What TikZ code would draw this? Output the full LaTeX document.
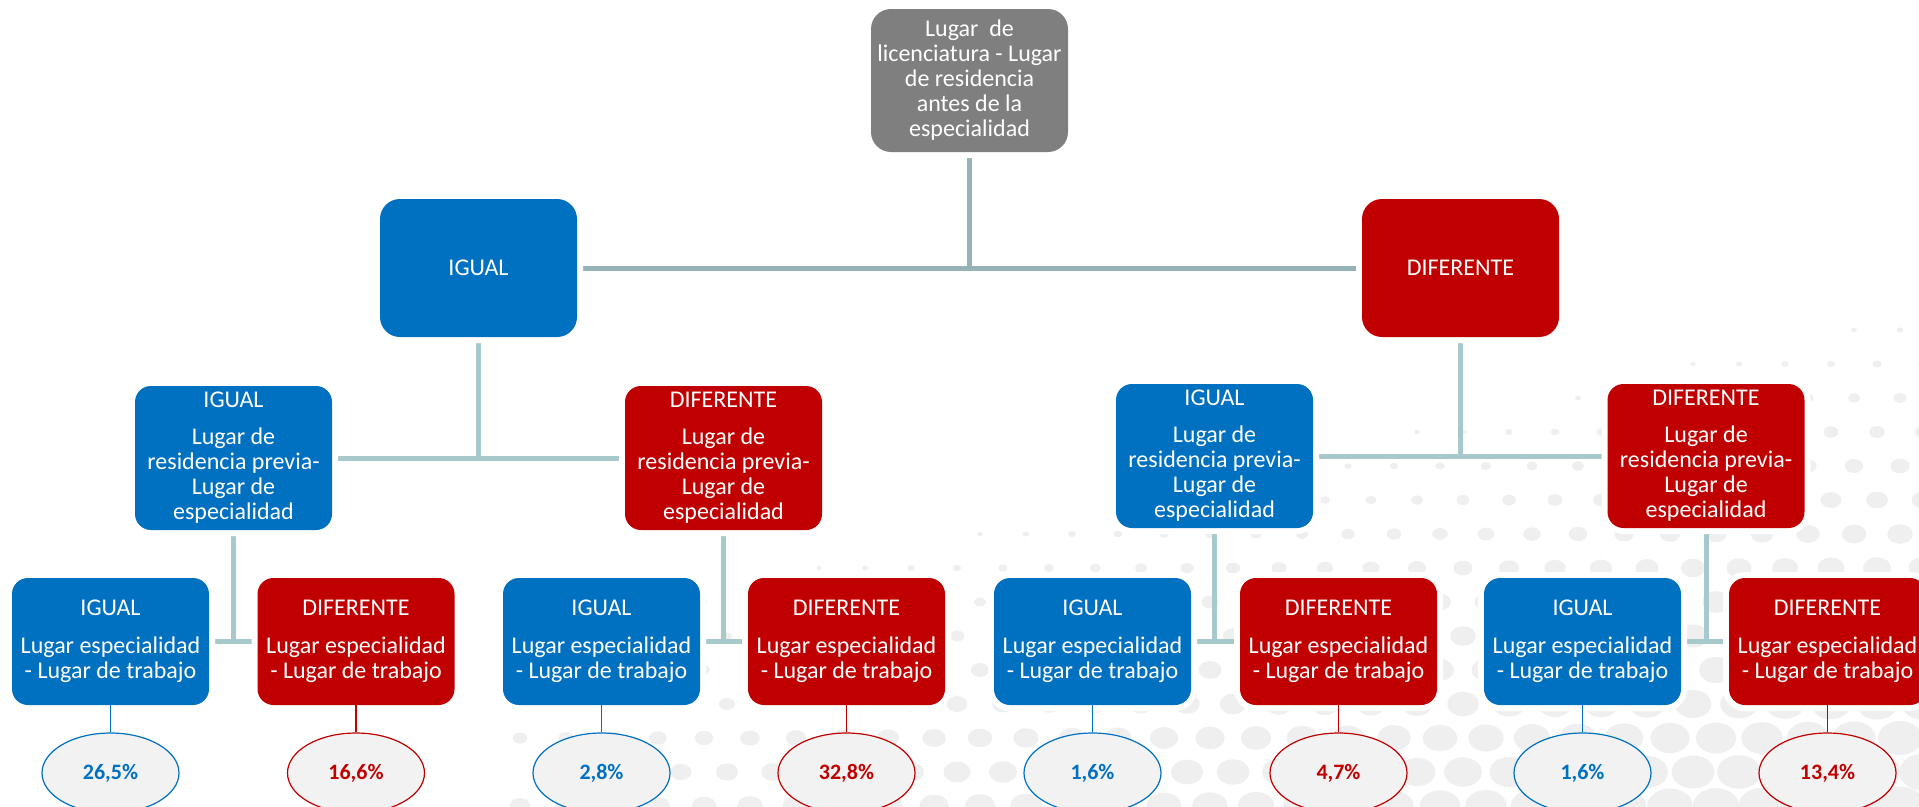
\documentclass[tikz,border=0pt]{standalone}
\usepackage{fontspec}
\setmainfont{Carlito}
\usetikzlibrary{shapes.geometric}
\definecolor{cblue}{HTML}{0070C0}
\definecolor{cred}{HTML}{C00000}
\definecolor{cgray}{HTML}{7F7F7F}
\definecolor{conncol}{HTML}{A7C9CC}
\definecolor{conntop}{HTML}{95B3B6}
\definecolor{dotc}{HTML}{EFEFEF}
\definecolor{ellfill}{HTML}{F2F2F2}
\pgfdeclarelayer{dots}
\pgfdeclarelayer{bg}
\pgfsetlayers{dots,bg,main}
\tikzset{
 box/.style={rectangle, rounded corners=16pt, text=white, align=center, inner sep=0pt,
   font=\fontsize{24}{25}\selectfont, preaction={draw=white, line width=12pt}},
 bigbox/.style={box, minimum width=197pt, minimum height=138pt, rounded corners=20pt},
 midbox/.style={box, minimum width=197pt, minimum height=144pt},
 lowbox/.style={box, minimum width=197pt, minimum height=127pt},
 ig/.style={fill=cblue}, df/.style={fill=cred},
 pct/.style={ellipse, draw, fill=ellfill, line width=1.2pt, minimum width=137pt,
   minimum height=80pt, inner sep=0pt, font=\fontsize{22}{24}\selectfont\bfseries},
 connline/.style={draw=conncol, line width=5pt},
 leaf/.style={line width=1.5pt},
}
\begin{document}
\begin{tikzpicture}[x=1pt,y=-1pt]
\clip (0,0) rectangle (1919,806);
\begin{pgfonlayer}{dots}
\fill[white] (0,0) rectangle (1919,806);
\foreach \i in {0,...,31}{\foreach \j in {0,...,14}{
 \pgfmathsetmacro\xx{520+\i*46+mod(\j,2)*23}
 \pgfmathsetmacro\yy{330+\j*34}
 \pgfmathsetmacro\rr{21*((\xx-520)/1400*0.55+(\yy-330)/476*0.8-0.42)}
 \ifdim\rr pt>2pt \fill[dotc] (\xx,\yy) ellipse ({1.3*\rr} and {\rr});\fi
}}
\end{pgfonlayer}
% nodes
\node[bigbox, fill=cgray, minimum height=143pt] (top) at (969.5,80.5)
  {Lugar\ \ de\\licenciatura - Lugar\\de residencia\\antes de la\\especialidad};
\node[bigbox, ig] (l1i) at (478.5,268) {IGUAL};
\node[bigbox, df] (l1d) at (1460.5,268) {DIFERENTE};
\node[midbox, ig] (l2a) at (233.5,458) {IGUAL\\[12pt]Lugar de\\residencia previa-\\Lugar de\\especialidad};
\node[midbox, df] (l2b) at (723.5,458) {DIFERENTE\\[12pt]Lugar de\\residencia previa-\\Lugar de\\especialidad};
\node[midbox, ig] (l2c) at (1214.5,456) {IGUAL\\[12pt]Lugar de\\residencia previa-\\Lugar de\\especialidad};
\node[midbox, df] (l2d) at (1706,456) {DIFERENTE\\[12pt]Lugar de\\residencia previa-\\Lugar de\\especialidad};
\foreach \n/\x/\s/\t in {a/110.5/ig/IGUAL, b/356/df/DIFERENTE, c/601.5/ig/IGUAL, d/846.5/df/DIFERENTE,
                        e/1092.5/ig/IGUAL, f/1338.5/df/DIFERENTE, g/1582.5/ig/IGUAL, h/1827.5/df/DIFERENTE}{
  \node[lowbox, \s] (l3\n) at (\x,641.5) {\t\\[13pt]Lugar especialidad\\- Lugar de trabajo};
}
% connectors
\begin{pgfonlayer}{bg}
\draw[connline, draw=conntop] (top.south) -- (top.south |- l1i.east);
\draw[connline, draw=conntop] (l1i.east) -- (l1d.west);
\draw[connline] (l1i.south) -- (l1i.south |- l2a.east);
\draw[connline] (l2a.east) -- (l2b.west);
\draw[connline] (l1d.south) -- (l1d.south |- l2c.east);
\draw[connline] (l2c.east) -- (l2d.west);
\draw[connline] (l2a.south) -- (l2a.south |- l3a.east);
\draw[connline] (l3a.east) -- (l3b.west);
\draw[connline] (l2b.south) -- (l2b.south |- l3c.east);
\draw[connline] (l3c.east) -- (l3d.west);
\draw[connline] (l2c.south) -- (l2c.south |- l3e.east);
\draw[connline] (l3e.east) -- (l3f.west);
\draw[connline] (l2d.south) -- (l2d.south |- l3g.east);
\draw[connline] (l3g.east) -- (l3h.west);
\end{pgfonlayer}
% percentages
\foreach \n/\x/\c/\p in {a/110.5/cblue/{26,5}, b/356/cred/{16,6}, c/601.5/cblue/{2,8}, d/846.5/cred/{32,8},
                         e/1092.5/cblue/{1,6}, f/1338.5/cred/{4,7}, g/1582.5/cblue/{1,6}, h/1827.5/cred/{13,4}}{
  \node[pct, draw=\c, text=\c] (p\n) at (\x,773) {\p\%};
  \draw[leaf, \c] (l3\n.south) -- (p\n.north);
}
\end{tikzpicture}
\end{document}
